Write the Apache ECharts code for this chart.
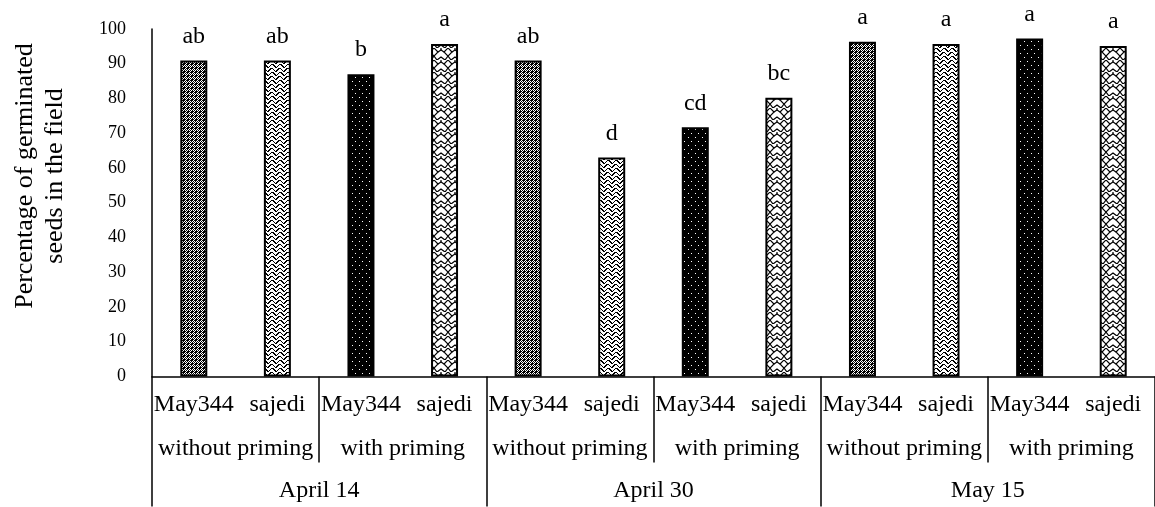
<!DOCTYPE html>
<html><head><meta charset="utf-8">
<script src="https://cdn.jsdelivr.net/npm/echarts@6/dist/echarts.min.js"></script>
<style>html,body{margin:0;padding:0;background:#fff}#c{width:1155px;height:507px}</style>
</head><body><div id="c"></div>
<script>
const varieties = ['May344','sajedi','May344','sajedi','May344','sajedi','May344','sajedi','May344','sajedi','May344','sajedi'];
const priming = ['without priming','with priming','without priming','with priming','without priming','with priming'];
const dates = ['April 14','April 30','May 15'];
const germination = [90.9, 90.9, 87.0, 95.7, 90.9, 63.0, 71.7, 80.2, 96.3, 95.7, 97.3, 95.1];
const letters = ['ab','ab','b','a','ab','d','cd','bc','a','a','a','a'];
const yMin = 0, yMax = 100, yStep = 10;

const FONT = '"Liberation Serif","Times New Roman",serif';

function makeTile(w, h, bg, draw) {
  const c = document.createElement('canvas');
  c.width = w; c.height = h;
  const g = c.getContext('2d');
  g.fillStyle = bg; g.fillRect(0, 0, w, h);
  draw(g);
  return c;
}
// pattern A: black with white diamonds
const patA = makeTile(4, 4, '#000', g => {
  g.fillStyle = '#fff';
  [[1,0],[0,1],[2,1],[1,2],[3,2],[2,3]].forEach(p => g.fillRect(p[0], p[1], 1, 1));
});
// pattern B: white with black herringbone
const patB = makeTile(8, 8, '#fff', g => {
  g.fillStyle = '#000';
  for (let i = 0; i < 4; i++) {
    g.fillRect(i, i, 1, 1); g.fillRect(7 - i, i, 1, 1);
    g.fillRect(i, i + 4, 1, 1); g.fillRect(7 - i, i + 4, 1, 1);
    g.fillRect(i + 1, i, 1, 1); g.fillRect(6 - i, i + 4, 1, 1);
  }
});
// pattern C: black with sparse white dots
const patC = makeTile(7, 8, '#000', g => {
  g.fillStyle = '#fff';
  g.fillRect(2, 1, 1, 1); g.fillRect(5, 5, 1, 1);
});
// pattern D: white with black scales
const patD = makeTile(14, 12, '#fff', g => {
  g.strokeStyle = '#000'; g.lineWidth = 1.2;
  g.beginPath(); g.moveTo(0, 0); g.lineTo(4, 4); g.lineTo(0, 8); g.stroke();
  g.beginPath(); g.moveTo(14, 0); g.lineTo(10, 4); g.lineTo(14, 8); g.stroke();
  g.beginPath(); g.moveTo(4, 4); g.lineTo(7, 2); g.lineTo(10, 4); g.stroke();
  g.beginPath(); g.moveTo(0, 8); g.lineTo(3, 12); g.stroke();
  g.beginPath(); g.moveTo(14, 8); g.lineTo(11, 12); g.stroke();
  g.beginPath(); g.moveTo(7, 2); g.lineTo(7, -1); g.stroke();
  g.beginPath(); g.moveTo(3, 12); g.lineTo(7, 9); g.lineTo(11, 12); g.stroke();
});
const patterns = [patA, patB, patC, patD];

const chart = echarts.init(document.getElementById('c'), null, {renderer: 'canvas'});
const black = '#000';
chart.setOption({
  animation: false,
  backgroundColor: '#fff',
  grid: {left: 152, right: -2, top: 29, bottom: 130.5, containLabel: false},
  xAxis: [
    {type: 'category', data: varieties, position: 'bottom', gridIndex: 0,
     axisLine: {show: true, lineStyle: {color: black, width: 1.5}},
     axisTick: {show: false},
     axisLabel: {interval: 0, margin: 16, color: black, fontSize: 24, fontFamily: FONT, lineHeight: 24}},
    {type: 'category', data: priming, position: 'bottom', gridIndex: 0,
     axisLine: {show: false},
     axisTick: {show: true, interval: 0, length: 86, lineStyle: {color: black, width: 1.5}},
     axisLabel: {interval: 0, margin: 60, color: black, fontSize: 24, fontFamily: FONT, lineHeight: 24}},
    {type: 'category', data: dates, position: 'bottom', gridIndex: 0,
     axisLine: {show: false},
     axisTick: {show: true, interval: 0, length: 130, lineStyle: {color: black, width: 1.5}},
     axisLabel: {interval: 0, margin: 102, color: black, fontSize: 24, fontFamily: FONT, lineHeight: 24}}
  ],
  yAxis: {type: 'value', min: yMin, max: yMax, interval: yStep,
    axisLine: {show: true, lineStyle: {color: black, width: 1.5}},
    axisTick: {show: false}, splitLine: {show: false},
    axisLabel: {margin: 26, color: black, fontSize: 18, fontFamily: FONT, padding: [0, 0, 14, 0]}},
  graphic: [{
    type: 'text', x: 40, y: 176, rotation: Math.PI / 2,
    style: {text: 'Percentage of germinated\nseeds in the field', font: '26px ' + FONT,
      fill: black, align: 'center', verticalAlign: 'middle', lineHeight: 30}
  }],
  series: [{
    type: 'bar', xAxisIndex: 0, barWidth: 27,
    data: germination.map((v, i) => ({value: v,
      itemStyle: {color: {image: patterns[i % 4], repeat: 'repeat'}, borderColor: black, borderWidth: 2}})),
    label: {show: true, position: 'top', distance: 12, color: black, fontSize: 24, fontFamily: FONT,
      formatter: p => letters[p.dataIndex]}
  }]
});
</script></body></html>
